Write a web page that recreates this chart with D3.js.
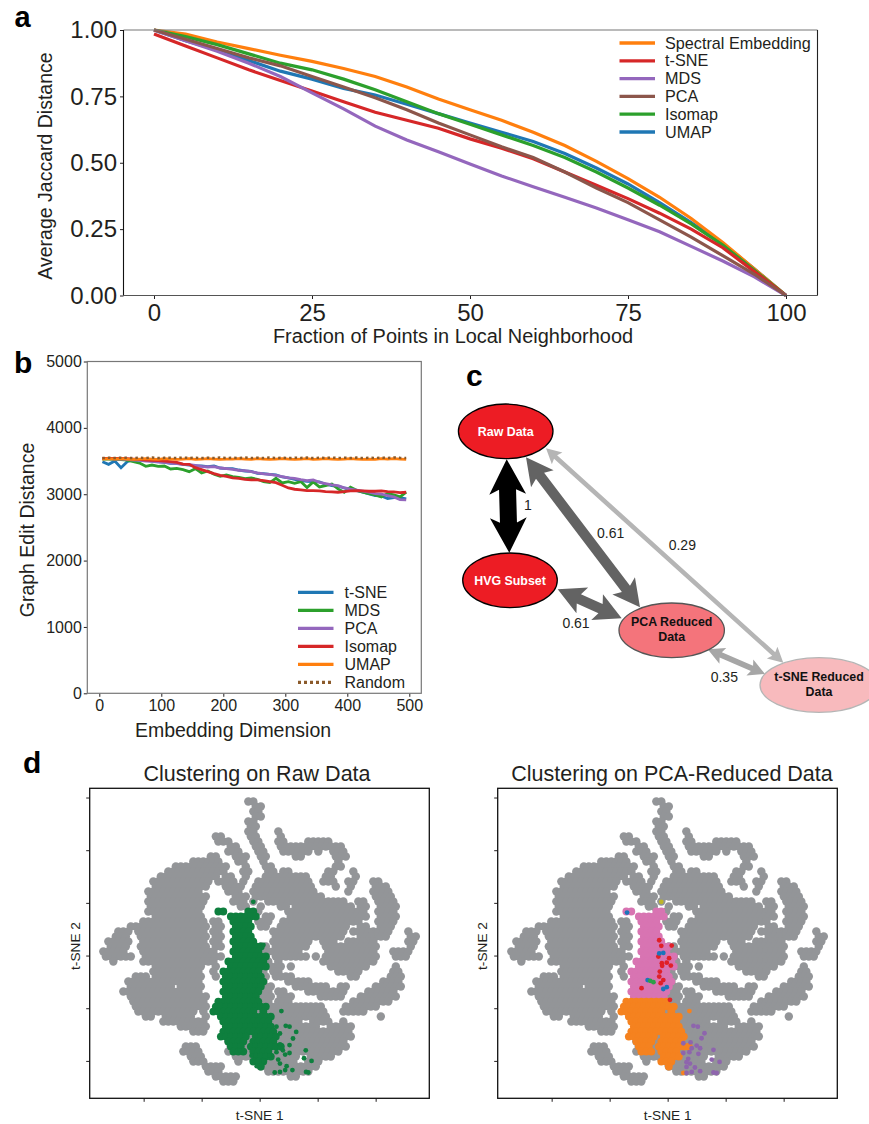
<!DOCTYPE html>
<html>
<head>
<meta charset="utf-8">
<script src="https://cdn.jsdelivr.net/npm/d3@7"></script>
<style>
  body { margin: 0; background: #fff; }
  svg { display: block; font-family: "Liberation Sans", Arial, sans-serif; fill: #231f20; }
  .tick text { fill: #231f20; }
</style>
</head>
<body>
<div id="fig"></div>
<script>
// Panel a: curves
const fractionX = [0, 5, 10, 15, 20, 25, 30, 35, 40, 45, 50, 55, 60, 65, 70, 75, 80, 85, 90, 95, 100];
const umapA     = [1, .96, .925, .885, .845, .815, .78, .755, .72, .685, .65, .615, .58, .535, .48, .42, .35, .275, .195, .10, 0];
const spectralA = [1, .985, .955, .93, .905, .882, .855, .825, .785, .74, .70, .66, .615, .565, .505, .44, .37, .29, .20, .10, 0];
const isomapA   = [1, .975, .945, .91, .875, .85, .815, .775, .73, .685, .645, .605, .565, .52, .465, .405, .34, .27, .19, .095, 0];
const tsneA     = [.985, .94, .895, .85, .81, .77, .73, .69, .66, .63, .59, .555, .515, .465, .415, .365, .31, .25, .18, .09, 0];
const mdsA      = [1, .96, .92, .875, .825, .763, .703, .638, .586, .541, .495, .45, .41, .37, .33, .285, .24, .185, .13, .07, 0];
const pcaA      = [1, .965, .93, .895, .865, .825, .785, .745, .70, .65, .605, .56, .52, .465, .405, .35, .285, .22, .15, .08, 0];
const legendA   = ['Spectral Embedding', 't-SNE', 'MDS', 'PCA', 'Isomap', 'UMAP'];

// Panel b: edit distance by embedding dimension
const dims = [5, 15, 25, 35, 45, 55, 65, 75, 85, 95, 105, 115, 125, 135, 145, 155, 165, 175, 185, 195, 205, 215, 225, 235, 245,
  255, 265, 275, 285, 295, 305, 315, 325, 335, 345, 355, 365, 375, 385, 395, 405, 415, 425, 435, 445, 455, 465, 475, 485, 495];
const tsneB = [3490, 3450, 3500, 3400, 3490, 3520, 3515, 3510, 3500, 3490, 3480, 3465, 3465, 3450, 3440, 3430, 3425, 3415, 3425, 3395, 3385, 3385, 3365, 3350, 3345,
  3315, 3310, 3300, 3290, 3260, 3245, 3225, 3205, 3195, 3190, 3185, 3150, 3130, 3120, 3095, 3075, 3055, 3030, 3005, 2980, 2975, 2935, 2950, 2950, 2930];
const mdsB = [3530, 3530, 3525, 3520, 3515, 3490, 3470, 3420, 3440, 3420, 3425, 3380, 3390, 3370, 3340, 3385, 3320, 3350, 3300, 3270, 3290, 3265, 3255, 3235, 3245,
  3225, 3190, 3175, 3240, 3170, 3190, 3165, 3190, 3100, 3185, 3110, 3130, 3155, 3080, 3030, 3105, 3060, 3030, 3010, 2990, 2960, 3010, 2990, 2960, 3030];
const pcaB = [3535, 3535, 3530, 3530, 3525, 3515, 3510, 3500, 3495, 3485, 3480, 3470, 3460, 3450, 3445, 3435, 3420, 3410, 3415, 3395, 3385, 3375, 3360, 3355, 3340,
  3320, 3305, 3300, 3285, 3265, 3245, 3240, 3220, 3205, 3215, 3180, 3160, 3140, 3130, 3095, 3075, 3060, 3045, 3030, 3010, 3000, 2980, 2960, 2920, 2915];
const isomapB = [3540, 3540, 3540, 3540, 3535, 3530, 3525, 3515, 3510, 3505, 3500, 3490, 3480, 3455, 3450, 3400, 3370, 3340, 3310, 3285, 3270, 3245, 3240, 3225, 3215,
  3215, 3205, 3190, 3175, 3135, 3095, 3075, 3065, 3055, 3055, 3050, 3040, 3035, 3030, 3040, 3050, 3055, 3050, 3045, 3045, 3050, 3040, 3035, 3025, 3030];
const umapB = [3530, 3535, 3530, 3535, 3530, 3525, 3530, 3535, 3530, 3525, 3535, 3530, 3525, 3530, 3535, 3525, 3530, 3535, 3530, 3525, 3530, 3530, 3535, 3530, 3525,
  3535, 3530, 3525, 3530, 3535, 3530, 3525, 3530, 3535, 3525, 3530, 3535, 3530, 3525, 3530, 3535, 3530, 3525, 3530, 3525, 3535, 3530, 3535, 3530, 3525];
const randomB = [3545, 3550, 3545, 3550, 3548, 3545, 3550, 3545, 3552, 3546, 3548, 3550, 3545, 3552, 3546, 3550, 3544, 3550, 3546, 3552, 3546, 3550, 3545, 3552, 3546,
  3550, 3545, 3552, 3546, 3550, 3544, 3550, 3546, 3552, 3545, 3550, 3546, 3552, 3545, 3550, 3546, 3552, 3545, 3550, 3546, 3552, 3545, 3555, 3548, 3545];
const legendB = ['t-SNE', 'MDS', 'PCA', 'Isomap', 'UMAP', 'Random'];

// Panel c: graph nodes and edges
const nodeNames = ['Raw Data', 'HVG Subset', 'PCA Reduced|Data', 't-SNE Reduced|Data'];
const edgeFrom = [0, 0, 1, 0, 2];
const edgeTo = [1, 2, 2, 3, 3];
const edgeWeight = [1, 0.61, 0.61, 0.29, 0.35];
const edgeLabels = ['1', '0.61', '0.61', '0.29', '0.35'];

// Panel d: occupied cells of the t-SNE map as [row, first col, last col]
const grayCells = [[0,29,30],[1,30,31],[2,30,31],[3,30,31],[4,29,30],[5,29,30],[6,29,30],[6,35,35],[7,29,30],[7,22,23],[7,35,35],
  [8,30,31],[8,23,25],[8,35,36],[8,41,45],[9,30,31],[9,25,26],[9,35,47],[10,31,32],[10,25,27],[10,36,41],[10,46,48],[10,43,43],
  [11,31,32],[11,26,28],[11,38,39],[11,46,48],[11,21,22],[12,32,32],[12,27,28],[12,47,47],[12,18,23],[13,32,33],[13,28,28],[13,46,47],[13,14,24],
  [14,28,29],[14,45,46],[14,13,24],[14,50,50],[14,33,34],[14,36,37],[15,11,22],[15,24,25],[15,28,28],[15,44,45],[15,50,50],[15,32,40],
  [16,10,21],[16,23,26],[16,44,46],[16,49,50],[16,54,55],[16,31,41],[16,28,28],[17,10,20],[17,24,27],[17,46,46],[17,49,49],[17,54,56],[17,30,41],
  [18,9,19],[18,25,27],[18,49,49],[18,54,57],[18,30,42],[19,9,20],[19,26,28],[19,54,57],[19,30,43],[20,9,20],[20,26,28],[20,55,58],[20,30,30],[20,33,48],[20,51,52],
  [21,9,19],[21,27,28],[21,55,58],[21,31,31],[21,35,36],[21,38,49],[21,51,52],[22,9,19],[22,55,58],[22,37,52],[22,31,31],[23,10,19],[23,55,58],[23,37,52],[23,32,33],
  [24,8,20],[24,22,23],[24,55,58],[24,31,33],[24,36,51],[25,5,20],[25,22,23],[25,55,57],[25,31,32],[25,35,48],[25,51,52],
  [26,3,5],[26,7,20],[26,22,23],[26,54,57],[26,61,61],[26,34,48],[26,50,53],[27,2,4],[27,7,20],[27,22,23],[27,53,56],[27,61,62],[27,34,47],[27,51,53],
  [28,1,5],[28,8,20],[28,22,23],[28,53,54],[28,61,62],[28,34,41],[28,44,46],[28,49,52],[29,1,4],[29,7,20],[29,22,23],[29,61,61],[29,34,40],[29,44,54],[29,31,32],
  [30,0,4],[30,8,20],[30,21,22],[30,58,61],[30,33,39],[30,45,54],[30,31,32],[31,0,5],[31,8,20],[31,21,23],[31,58,60],[31,34,40],[31,42,42],[31,44,54],[31,32,32],
  [32,2,2],[32,8,20],[32,21,22],[32,35,35],[32,44,54],[32,32,33],[33,10,19],[33,22,22],[33,58,58],[33,45,52],[33,34,35],[33,37,37],[33,32,33],
  [34,10,19],[34,22,22],[34,58,59],[34,34,35],[34,47,51],[34,31,32],[35,6,8],[35,10,19],[35,22,22],[35,34,35],[35,57,59],[35,36,37],[35,49,50],[35,31,32],
  [36,5,19],[36,37,41],[36,56,59],[36,32,32],[37,5,13],[37,15,19],[37,38,44],[37,47,48],[37,54,59],[37,32,33],[38,4,19],[38,35,36],[38,41,48],[38,53,58],[38,25,33],
  [39,5,20],[39,35,37],[39,43,47],[39,51,58],[39,25,33],[40,6,20],[40,35,37],[40,50,57],[40,25,33],[41,6,20],[41,25,43],[41,48,54],
  [42,7,18],[42,20,20],[42,25,44],[42,48,52],[43,8,9],[43,12,17],[43,20,20],[43,25,44],[43,55,55],[44,12,20],[44,25,39],[44,42,45],[44,48,48],
  [45,15,20],[45,25,42],[45,45,49],[46,18,20],[46,25,49],[47,25,49],[48,25,48],[49,16,18],[49,25,48],[50,16,19],[50,25,47],
  [51,17,19],[51,26,38],[51,41,45],[52,18,20],[52,27,27],[52,31,38],[52,41,43],[53,20,23],[53,31,42],[54,21,23],[54,33,41],[55,22,26],[55,37,38],[56,24,26]];
const upperCells = [[22,23,24],[22,29,30],[23,25,30],[24,26,29],[25,26,29],[26,26,29],[27,26,29],[28,26,30],[29,26,31],[30,26,31],[31,26,32],
  [32,25,32],[33,25,32],[34,24,31],[35,24,31],[36,24,32],[37,24,31],[38,24,31],[39,24,30]];
const lowerCells = [[40,23,31],[41,22,32],[42,22,30],[42,32,32],[43,23,33],[44,24,33],[45,24,33],[46,24,34],[47,23,28],[47,30,34],
  [48,25,28],[48,30,34],[49,25,27],[49,29,35],[50,26,28],[50,30,33],[51,30,33],[52,30,32],[53,31,31]];

// Loose cluster members in t-SNE units
const looseGreenX = [-2.2, 1.3, 7.5, 5.8, 9, 10.3, 12.6, 11.5, 7, 10.3, 7, 8, 5.8, 10.3, 15.9, 8.8, 6.4, 15.3, 17.9, 7, 9.3, 5.2, 7, 8.8, 11.3, 16, 16.8, 3.5, 1.3, -1, -2.8, -6.8];
const looseGreenY = [20.4, 4, -21.1, -27, -26.7, -27, -29, -31.5, -29.6, -34, -33.7, -36, -36.7, -37, -36, -37.6, -39.5, -39, -40, -41, -42, -44.4, -44.2, -43.5, -43.5, -44.2, -44.4, -38, -40, -42, -38, -36];
const looseRedX = [-2.9, -2.2, 1.4, -3.2, .5, -.3, -2, -1.9, 1.1, -2.7, -2.9, -1.5, -2.4, -9, .8];
const looseRedY = [5.8, 3.7, 3.8, -.4, -1, -2.7, -2.9, -3.9, -3.8, -6.1, -8, -9.3, -10.5, -12.4, -16.8];
const looseBlueX = [-14, -2.9, -1.5, -6.9, -1.5, -.3];
const looseBlueY = [16.3, .8, 1, -9.3, -12.7, -12];
const looseLimeX = [-6, -4.9];
const looseLimeY = [-9.6, -10.1];
const looseOliveX = [-2.2];
const looseOliveY = [20.4];
const loosePurpleX = [8.9, 10.4, 12.7, 11.7, 5.4, 7.9, 10, 8.3, 11.2, 15.8, 5.4, 7.5, 10.6, 7.1, 6.5, 15.2, 17.9, 7.7, 6.5, 9.4, 11.2, 8.3, 6.5, 15.8, 16.9];
const loosePurpleY = [-26.7, -27, -29.5, -31.4, -33.3, -33, -34.2, -35.2, -35.2, -35.8, -37, -36.7, -37.3, -39.2, -40.5, -39.5, -40.4, -41, -42.3, -42.5, -43.9, -44.2, -44.6, -44.4, -44.6];
const looseOrangeX = [7.5, 5.4];
const looseOrangeY = [-21.1, -44.6];

const tsneXTicks = [-40, -20, 0, 20, 40];
const tsneYTicks = [-40, -20, 0, 20, 40, 60];

const BLUE = '#1f77b4', ORANGE = '#ff7f0e', GREEN = '#2ca02c', RED = '#d62728', PURPLE = '#9467bd', BROWN = '#8c564b';
const INK = '#231f20';

const svg = d3.select('#fig').append('svg').attr('width', 869).attr('height', 1124);

function panelLetter(text, x, y, size) {
  svg.append('text').attr('x', x).attr('y', y).attr('font-size', size).attr('font-weight', 700).attr('fill', '#000').text(text);
}

function styleAxis(g, size) {
  g.select('.domain').remove();
  g.selectAll('.tick line').attr('stroke', INK);
  g.selectAll('.tick text').attr('font-size', size);
}

function legendRow(g, y, name, color, x0, x1, tx, size, dash) {
  g.append('line').attr('x1', x0).attr('x2', x1).attr('y1', y).attr('y2', y)
    .attr('stroke', color).attr('stroke-width', 3.3).attr('stroke-dasharray', dash || null);
  g.append('text').attr('x', tx).attr('y', y + 5.5).attr('font-size', size).text(name);
}

function drawPanelA() {
  const box = { l: 123.5, r: 817.5, t: 30, b: 295.5 };
  const x = d3.scaleLinear().domain([0, 100]).range([154, 786]);
  const y = d3.scaleLinear().domain([0, 1]).range([box.b, box.t]);
  const g = svg.append('g');

  const line = d3.line().x(d => x(d[0])).y(d => y(d[1]));
  [[umapA, BLUE], [spectralA, ORANGE], [isomapA, GREEN], [tsneA, RED], [mdsA, PURPLE], [pcaA, BROWN]].forEach(s => {
    g.append('path').datum(d3.zip(fractionX, s[0])).attr('d', line)
      .attr('fill', 'none').attr('stroke', s[1]).attr('stroke-width', 3.2);
  });

  const ax = g.append('g').attr('transform', `translate(0,${box.b})`)
    .call(d3.axisBottom(x).tickValues([0, 25, 50, 75, 100]).tickSize(3.5).tickPadding(5));
  styleAxis(ax, 24);
  const ay = g.append('g').attr('transform', `translate(${box.l},0)`)
    .call(d3.axisLeft(y).tickValues([0, .25, .5, .75, 1]).tickSize(3.5).tickPadding(3).tickFormat(d3.format('.2f')));
  styleAxis(ay, 24);

  // spines differ a little in tone in the original
  g.append('line').attr('x1', box.l).attr('x2', box.r).attr('y1', box.t).attr('y2', box.t).attr('stroke', '#777').attr('stroke-width', 1.2);
  g.append('line').attr('x1', box.l).attr('x2', box.r).attr('y1', box.b).attr('y2', box.b).attr('stroke', '#555').attr('stroke-width', 1.2);
  g.append('line').attr('x1', box.l).attr('x2', box.l).attr('y1', box.t).attr('y2', box.b).attr('stroke', '#111').attr('stroke-width', 1.1);
  g.append('line').attr('x1', box.r).attr('x2', box.r).attr('y1', box.t).attr('y2', box.b).attr('stroke', '#222').attr('stroke-width', 1.1);

  [ORANGE, RED, PURPLE, BROWN, GREEN, BLUE].forEach((c, i) => {
    legendRow(g, 43 + i * 17.8, legendA[i], c, 619.5, 655, 665, 16.2);
  });

  g.append('text').attr('x', 453).attr('y', 343).attr('text-anchor', 'middle').attr('font-size', 19.95)
    .text('Fraction of Points in Local Neighborhood');
  g.append('text').attr('transform', 'translate(51.5,166) rotate(-90)').attr('text-anchor', 'middle').attr('font-size', 19.5)
    .text('Average Jaccard Distance');
}

function drawPanelB() {
  const box = { l: 87.3, r: 421.3, t: 361.5, b: 693.3 };
  const x = d3.scaleLinear().domain([0, 500]).range([99.3, 409.3]);
  const y = d3.scaleLinear().domain([0, 5000]).range([box.b, box.t]);
  const g = svg.append('g');

  const line = d3.line().x(d => x(d[0])).y(d => y(d[1]));
  [[tsneB, BLUE], [mdsB, GREEN], [pcaB, PURPLE], [isomapB, RED], [umapB, ORANGE]].forEach(s => {
    g.append('path').datum(d3.zip(dims, s[0])).attr('d', line)
      .attr('fill', 'none').attr('stroke', s[1]).attr('stroke-width', 2.8);
  });
  g.append('path').datum(d3.zip(dims, randomB)).attr('d', line).attr('fill', 'none')
    .attr('stroke', '#8b5a2b').attr('stroke-width', 2.5).attr('stroke-dasharray', '2.5,3');

  const ax = g.append('g').attr('transform', `translate(0,${box.b})`)
    .call(d3.axisBottom(x).tickValues([0, 100, 200, 300, 400, 500]).tickSize(3.5).tickPadding(3).tickFormat(d3.format('d')));
  styleAxis(ax, 16);
  const ay = g.append('g').attr('transform', `translate(${box.l},0)`)
    .call(d3.axisLeft(y).tickValues([0, 1000, 2000, 3000, 4000, 5000]).tickSize(3.5).tickPadding(2).tickFormat(d3.format('d')));
  styleAxis(ay, 16);

  g.append('rect').attr('x', box.l).attr('y', box.t).attr('width', box.r - box.l).attr('height', box.b - box.t)
    .attr('fill', 'none').attr('stroke', '#777').attr('stroke-width', 1.2);

  [BLUE, GREEN, PURPLE, RED, ORANGE, '#8b5a2b'].forEach((c, i) => {
    legendRow(g, 592.3 + i * 18, legendB[i], c, 298, 333.5, 344.5, 16, i === 5 ? '3,3' : null);
  });

  g.append('text').attr('x', 233).attr('y', 737).attr('text-anchor', 'middle').attr('font-size', 19.5)
    .text('Embedding Dimension');
  g.append('text').attr('transform', 'translate(34,530) rotate(-90)').attr('text-anchor', 'middle').attr('font-size', 19.5)
    .text('Graph Edit Distance');
}

function doubleArrow(g, a, b, shaft, head, color) {
  const dx = b[0] - a[0], dy = b[1] - a[1];
  const len = Math.hypot(dx, dy), ux = dx / len, uy = dy / len, nx = -uy, ny = ux;
  const at = (along, off) => [a[0] + ux * along + nx * off, a[1] + uy * along + ny * off];
  const pts = [
    at(0, 0), at(head, head / 2 * 1.05), at(head * .86, shaft / 2), at(len - head * .86, shaft / 2),
    at(len - head, head / 2 * 1.05), at(len, 0), at(len - head, -head / 2 * 1.05), at(len - head * .86, -shaft / 2),
    at(head * .86, -shaft / 2), at(head, -head / 2 * 1.05)
  ];
  g.append('path').attr('d', d3.line()(pts) + 'Z').attr('fill', color);
}

function drawPanelC() {
  const g = svg.append('g');
  const nodeLayout = [
    { cx: 505.7, cy: 431.3, rx: 47.3, fill: '#ed1c24', stroke: '#000', text: '#fff' },
    { cx: 510, cy: 580.3, rx: 47.3, fill: '#ed1c24', stroke: '#000', text: '#fff' },
    { cx: 671.7, cy: 630.3, rx: 52.7, fill: '#f4747b', stroke: '#555', text: '#111' },
    { cx: 819, cy: 685, rx: 59, fill: '#f8babd', stroke: '#b5b5b5', text: '#111' }
  ];
  const edgeTips = [
    [[506.7, 459.3], [509.3, 552.7]],
    [[526, 457.3], [640, 607.3]],
    [[557.7, 589.3], [621.7, 618.3]],
    [[546, 448.3], [783.3, 662.7]],
    [[707.7, 649.3], [765, 674]]
  ];
  const labelAt = [[528, 505], [610.7, 533.3], [576, 623.3], [682.3, 545.3], [724.3, 677.3]];

  const shaftW = d3.scaleLinear().domain([.29, 1]).range([4.6, 17]);
  const headW = d3.scaleLinear().domain([.29, .35, .61, 1]).range([15, 16.5, 27, 35]);
  const gray = d3.scaleLinear().domain([0, 1]).range(['#fff', '#000']);

  edgeWeight.forEach((w, i) => {
    doubleArrow(g, edgeTips[i][0], edgeTips[i][1], shaftW(w), headW(w), gray(w));
    g.append('text').attr('x', labelAt[i][0]).attr('y', labelAt[i][1] + 5).attr('text-anchor', 'middle')
      .attr('font-size', 14).text(edgeLabels[i]);
  });

  nodeNames.forEach((name, i) => {
    const n = nodeLayout[i];
    g.append('ellipse').attr('cx', n.cx).attr('cy', n.cy).attr('rx', n.rx).attr('ry', 27.3)
      .attr('fill', n.fill).attr('stroke', n.stroke).attr('stroke-width', 1.3);
    const lines = name.split('|');
    lines.forEach((t, k) => {
      const yy = lines.length === 1 ? n.cy + 4.5 : n.cy - 4 + k * 15;
      g.append('text').attr('x', n.cx).attr('y', yy).attr('text-anchor', 'middle')
        .attr('font-size', 12.4).attr('font-weight', 700).attr('fill', n.text).text(t);
    });
  });
}

// grid of the occupancy cells, in t-SNE units
const GRID = { x0: -53.9, y0: 58.5, dx: 1.724, dy: 1.899 };

function cellsToPoints(cells) {
  const pts = [];
  cells.forEach(([row, first, last]) => {
    for (let c = first; c <= last; c++) {
      pts.push([GRID.x0 + (c + (row % 2 ? .5 : 0)) * GRID.dx, GRID.y0 - row * GRID.dy]);
    }
  });
  return pts;
}

function drawTsne(left, title, titleX, yLabelX, layers) {
  const box = { l: left, r: left + 339.6, t: 788.3, b: 1098.3 };
  const mid = left + 170;
  const x = d3.scaleLinear().domain([-58.6, 58.5]).range([box.l, box.r]);
  const y = d3.scaleLinear().domain([-54.2, 63.5]).range([box.b, box.t]);
  const g = svg.append('g');

  layers.forEach(layer => {
    g.append('g').selectAll('circle').data(layer.points).join('circle')
      .attr('cx', d => x(d[0])).attr('cy', d => y(d[1])).attr('r', layer.r).attr('fill', layer.color);
  });

  const ax = g.append('g').attr('transform', `translate(0,${box.b})`)
    .call(d3.axisBottom(x).tickValues(tsneXTicks).tickSize(3.5).tickFormat(''));
  styleAxis(ax, 10);
  const ay = g.append('g').attr('transform', `translate(${box.l},0)`)
    .call(d3.axisLeft(y).tickValues(tsneYTicks).tickSize(3.5).tickFormat(''));
  styleAxis(ay, 10);
  g.append('rect').attr('x', box.l).attr('y', box.t).attr('width', box.r - box.l).attr('height', box.b - box.t)
    .attr('fill', 'none').attr('stroke', '#111').attr('stroke-width', 1.3);

  g.append('text').attr('x', titleX).attr('y', 781).attr('text-anchor', 'middle').attr('font-size', 21.5).text(title);
  g.append('text').attr('x', mid).attr('y', 1120).attr('text-anchor', 'middle').attr('font-size', 13.7).text('t-SNE 1');
  g.append('text').attr('transform', `translate(${yLabelX},946) rotate(-90)`).attr('text-anchor', 'middle')
    .attr('font-size', 13.7).text('t-SNE 2');
}

function drawPanelD() {
  const gray = cellsToPoints(grayCells);
  const upper = cellsToPoints(upperCells);
  const lower = cellsToPoints(lowerCells);
  drawTsne(89.7, 'Clustering on Raw Data', 257, 80, [
    { points: gray, color: '#939598', r: 4.2 },
    { points: upper.concat(lower), color: '#0e7f3e', r: 3.9 },
    { points: d3.zip(looseGreenX, looseGreenY), color: '#0e7f3e', r: 2.4 }
  ]);
  drawTsne(497.7, 'Clustering on PCA-Reduced Data', 672, 486.7, [
    { points: gray, color: '#939598', r: 4.2 },
    { points: upper, color: '#d874b2', r: 3.9 },
    { points: lower, color: '#f5821f', r: 3.9 },
    { points: d3.zip(looseOrangeX, looseOrangeY), color: '#f5821f', r: 2.4 },
    { points: d3.zip(loosePurpleX, loosePurpleY), color: '#8e65ad', r: 2.4 },
    { points: d3.zip(looseRedX, looseRedY), color: '#e02027', r: 2.4 },
    { points: d3.zip(looseBlueX, looseBlueY), color: '#1b75bb', r: 2.4 },
    { points: d3.zip(looseLimeX, looseLimeY), color: '#2ca048', r: 2.4 },
    { points: d3.zip(looseOliveX, looseOliveY), color: '#bdb52a', r: 2.4 }
  ]);
}

drawPanelA();
drawPanelB();
drawPanelC();
drawPanelD();
panelLetter('a', 14.5, 26.5, 29);
panelLetter('b', 14, 373, 30);
panelLetter('c', 466, 386, 30);
panelLetter('d', 23, 773, 30);
</script>
</body>
</html>
